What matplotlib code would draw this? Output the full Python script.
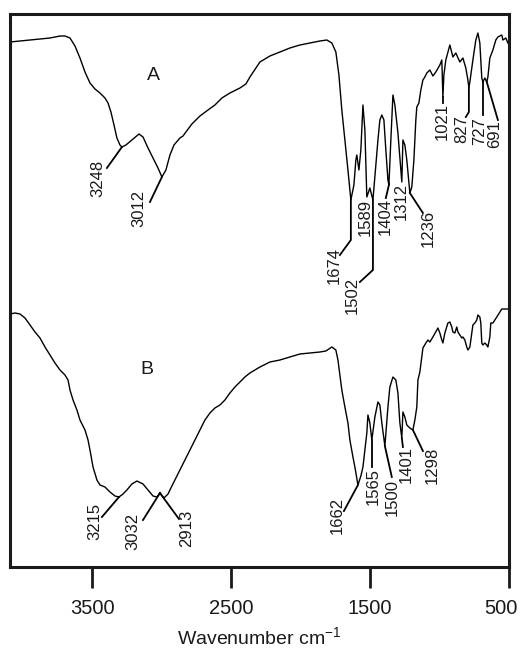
import numpy as np
import matplotlib
matplotlib.use("Agg")
import matplotlib.pyplot as plt
import matplotlib.transforms as mtransforms

plt.rcParams["font.family"] = ["Liberation Sans", "DejaVu Sans"]
plt.rcParams["mathtext.fontset"] = "custom"
plt.rcParams["mathtext.rm"] = "Liberation Sans"


# ===========================
# DATA
# ===========================
# spectrum A, wavenumber (cm-1) and relative transmittance
wn_a = [4094, 4022, 3950, 3878, 3806, 3734, 3698, 3662, 3626, 3590, 3554, 3518,
        3482, 3446, 3410, 3388, 3367, 3345, 3324, 3302, 3288, 3259, 3216, 3165,
        3136, 3100, 3064, 3028, 3000, 2971, 2942, 2913, 2870, 2848, 2827, 2784,
        2726, 2668, 2618, 2568, 2510, 2438, 2395, 2366, 2323, 2294, 2222, 2150,
        2078, 2006, 1934, 1862, 1812, 1776, 1747, 1725, 1704, 1682, 1660, 1639,
        1617, 1603, 1596, 1581, 1567, 1552, 1538, 1524, 1502, 1480, 1459, 1444,
        1430, 1416, 1401, 1387, 1372, 1365, 1351, 1336, 1322, 1300, 1279, 1272,
        1264, 1250, 1236, 1214, 1200, 1185, 1171, 1164, 1149, 1135, 1120, 1106,
        1092, 1070, 1048, 1027, 998, 984, 976, 969, 955, 926, 904, 883,
        854, 832, 811, 796, 789, 782, 760, 739, 724, 710, 696, 688,
        674, 660, 652, 638, 616, 595, 580, 552, 544, 523, 508]
t_a = [105.0, 105.2, 105.4, 105.6, 105.8, 106.2, 106.2, 105.8, 104.2, 101.8, 99.0, 96.8,
       95.6, 94.8, 93.8, 92.8, 91.0, 88.4, 85.8, 84.4, 84.0, 84.4, 85.4, 86.6,
       86.0, 83.8, 81.8, 79.8, 78.0, 79.4, 82.4, 84.4, 85.8, 86.2, 87.0, 88.6,
       90.2, 91.4, 92.4, 93.8, 94.8, 95.8, 96.6, 98.0, 99.8, 101.0, 102.2, 103.0,
       103.8, 104.4, 104.8, 105.2, 105.4, 104.8, 103.0, 98.4, 91.4, 85.4, 79.4, 73.4,
       76.4, 81.4, 82.4, 79.4, 83.4, 92.4, 87.4, 74.0, 75.8, 73.4, 80.4, 85.4,
       89.4, 90.4, 89.4, 83.4, 77.4, 76.4, 85.4, 94.4, 92.4, 86.8, 79.4, 77.0,
       85.4, 84.4, 81.4, 74.8, 76.0, 81.4, 89.4, 92.0, 92.8, 95.4, 97.4, 98.0,
       98.8, 99.4, 98.2, 99.0, 100.4, 101.4, 94.0, 98.4, 101.4, 104.4, 102.0, 102.8,
       101.0, 101.8, 99.8, 97.4, 95.8, 97.0, 101.4, 105.4, 106.8, 104.8, 97.8, 97.0,
       97.8, 97.0, 98.0, 101.8, 103.4, 105.4, 106.0, 106.4, 105.4, 105.8, 104.8]

# spectrum B
wn_b = [4094, 4058, 4022, 3986, 3950, 3914, 3878, 3842, 3806, 3770, 3734, 3698,
        3676, 3662, 3640, 3612, 3590, 3554, 3532, 3518, 3496, 3468, 3446, 3410,
        3374, 3338, 3309, 3280, 3252, 3216, 3180, 3136, 3100, 3064, 3036, 3014,
        2985, 2956, 2928, 2899, 2870, 2834, 2798, 2762, 2726, 2690, 2654, 2618,
        2582, 2546, 2510, 2474, 2438, 2402, 2366, 2330, 2294, 2222, 2150, 2078,
        2006, 1934, 1862, 1819, 1776, 1747, 1732, 1718, 1704, 1682, 1660, 1646,
        1624, 1610, 1588, 1567, 1552, 1538, 1524, 1516, 1502, 1488, 1466, 1444,
        1430, 1416, 1394, 1372, 1358, 1336, 1315, 1300, 1286, 1272, 1264, 1250,
        1236, 1214, 1192, 1178, 1164, 1156, 1142, 1128, 1120, 1099, 1084, 1070,
        1048, 1020, 1012, 998, 984, 976, 962, 940, 926, 912, 904, 890,
        876, 868, 854, 840, 832, 818, 804, 796, 782, 768, 760, 746,
        732, 724, 710, 703, 696, 688, 674, 660, 652, 638, 631, 616,
        602, 588, 566, 552, 530, 508]
t_b = [50.6, 50.8, 50.6, 49.8, 48.4, 47.0, 45.8, 44.0, 42.4, 40.8, 39.4, 38.4,
       37.4, 35.4, 33.4, 31.4, 29.4, 27.4, 25.4, 23.4, 20.0, 17.4, 16.4, 16.0,
       15.0, 14.2, 14.0, 14.6, 15.4, 16.6, 17.2, 16.6, 15.4, 14.2, 14.0, 14.8,
       13.8, 14.6, 16.2, 17.8, 19.4, 21.4, 23.4, 25.4, 27.4, 29.4, 30.8, 31.8,
       32.4, 33.4, 34.8, 36.0, 37.0, 38.0, 38.8, 39.4, 40.0, 41.0, 41.4, 42.0,
       42.6, 42.8, 43.0, 43.2, 44.0, 43.4, 41.4, 38.4, 35.4, 32.0, 28.8, 25.4,
       22.0, 20.0, 16.4, 18.2, 20.0, 23.4, 26.8, 30.4, 28.8, 25.4, 30.0, 33.0,
       32.4, 28.8, 24.2, 32.0, 36.0, 38.0, 37.4, 34.8, 28.8, 25.8, 31.0, 30.0,
       28.4, 27.8, 27.4, 29.4, 32.0, 37.4, 39.0, 42.0, 43.8, 44.8, 45.4, 45.0,
       46.0, 47.4, 47.8, 46.8, 45.4, 44.8, 46.8, 48.8, 49.0, 48.0, 47.0, 46.8,
       48.0, 47.0, 46.4, 45.8, 46.0, 45.4, 44.0, 43.4, 44.0, 46.8, 48.4, 48.8,
       49.4, 50.4, 50.0, 48.8, 44.8, 44.4, 44.8, 44.4, 44.0, 46.0, 48.8, 48.8,
       49.4, 50.0, 51.0, 51.6, 51.6, 51.6]

# labelled bands and where their leader lines touch the curve
peaks_a = ["3248", "3012", "1674", "1589", "1502", "1404",
           "1312", "1236", "1021", "827", "727", "691"]
pos_a = [3288, 3000, 1639, 1524, 1480, 1365, 1272, 1214, 976, 789, 688, 660]

peaks_b = ["3215", "3032", "2913", "1662", "1565", "1500", "1401", "1298"]
pos_b = [3309, 3014, 3014, 1588, 1488, 1394, 1272, 1192]


# ===========================
# LEADER LINES / LABEL SPOTS
# ===========================
# (rest of the leader path, text top position)
layout_a = [
    ([(3396, 79.8)], (3460, 81.4)),
    ([(3086, 73.0)], (3165, 75.4)),
    ([(1639, 65.4), (1718, 62.4)], (1761, 64.0)),
    ([], (1538, 73.6)),
    ([(1480, 59.4), (1574, 57.0)], (1632, 58.0)),
    ([(1387, 73.8)], (1394, 73.8)),
    ([], (1279, 76.8)),
    ([(1120, 70.8)], (1084, 71.4)),
    ([(976, 92.8)], (984, 92.8)),
    ([(789, 91.0), (811, 90.0)], (840, 90.4)),
    ([(688, 90.4)], (708, 90.0)),
    ([(580, 89.4)], (604, 89.4)),
]
layout_b = [
    ([(3432, 10.0)], (3482, 12.8)),
    ([(3136, 9.4)], (3208, 10.8)),
    ([(2877, 9.6)], (2820, 11.4)),
    ([(1689, 11.2)], (1740, 14.0)),
    ([(1488, 20.0)], (1480, 19.8)),
    ([(1344, 18.0)], (1344, 17.6)),
    ([(1264, 24.0)], (1243, 24.2)),
    ([(1120, 23.2)], (1056, 24.0)),
]


def label_bands(ax, wn, t, labels, positions, layout):
    xs = np.array(wn)[::-1]
    ys = np.array(t)[::-1]
    for lab, p, (path, (tx, ty)) in zip(labels, positions, layout):
        y0 = np.interp(p, xs, ys)
        if path:
            px = [p] + [q[0] for q in path]
            py = [y0] + [q[1] for q in path]
            ax.plot(px, py, color="black", lw=1.3)
        ax.text(tx, ty, lab, rotation=90, ha="center", va="top",
                fontsize=12, color="#1a1a1a")


# ===========================
# PLOT
# ===========================
fig = plt.figure(figsize=(5.21, 6.51), dpi=100)
ax = fig.add_axes([10 / 521, 84 / 651, 499 / 521, 553 / 651])

ax.plot(wn_a, t_a, color="black", lw=1.0)
ax.plot(wn_b, t_b, color="black", lw=1.0)

label_bands(ax, wn_a, t_a, peaks_a, pos_a, layout_a)
label_bands(ax, wn_b, t_b, peaks_b, pos_b, layout_b)

ax.text(3064, 98.4, "A", ha="center", va="center", fontsize=14, color="#1a1a1a")
ax.text(3108, 39.4, "B", ha="center", va="center", fontsize=14, color="#1a1a1a")

ax.set_xlim(4094, 501)
ax.set_ylim(0, 110.6)
ax.set_yticks([])
ax.set_xticks([3500, 2500, 1500, 500])
ax.tick_params(axis="x", direction="out", length=15, width=2,
               labelsize=14.5, pad=8, colors="#1a1a1a")
for s in ax.spines.values():
    s.set_linewidth(2.2)
    s.set_color("#1a1a1a")

# the last tick label sits a little to the left, inside the figure
last = ax.get_xticklabels()[-1]
last.set_transform(last.get_transform() +
                   mtransforms.ScaledTranslation(-8 / 100, 0, fig.dpi_scale_trans))

ax.set_xlabel("Wavenumber cm$^{-1}$", fontsize=14, labelpad=6, color="#1a1a1a")

fig.savefig("out.png", dpi=100)
